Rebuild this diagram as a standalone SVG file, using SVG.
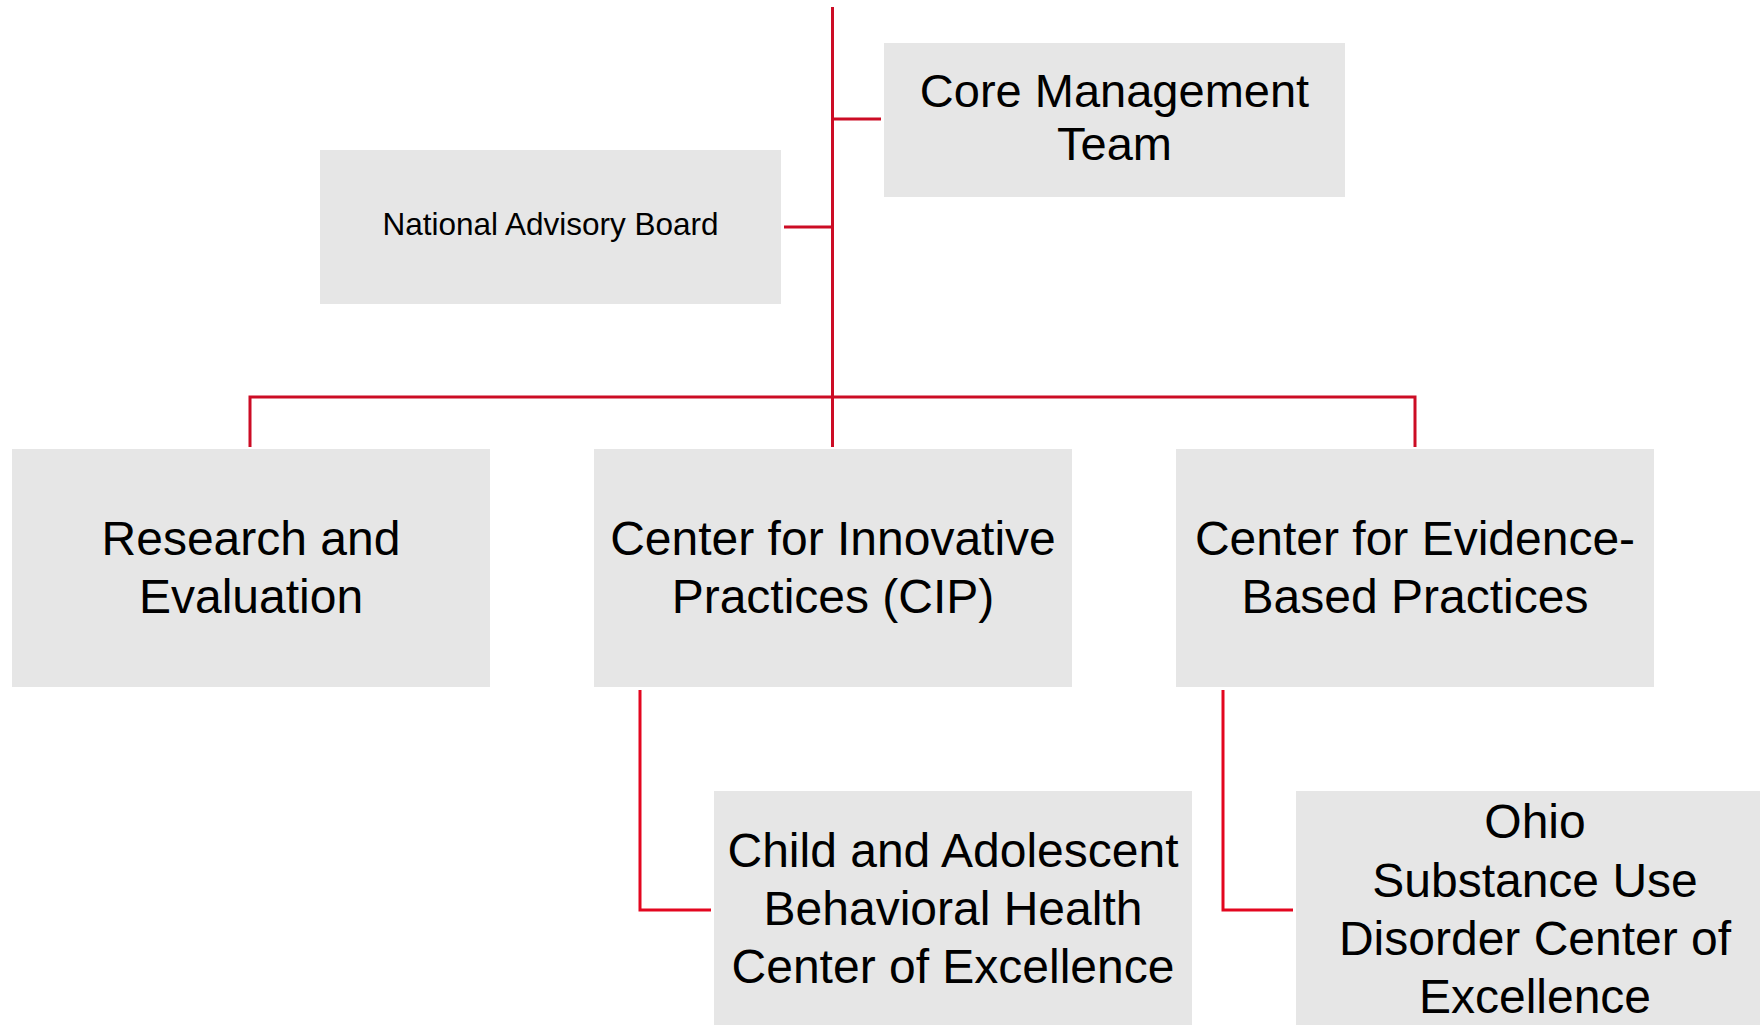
<svg xmlns="http://www.w3.org/2000/svg" width="1760" height="1025" viewBox="0 0 1760 1025">
  <style>
    .box { fill: #e6e6e6; }
    .lbl { font-family: "Liberation Sans", Arial, sans-serif; fill: #000; text-anchor: middle; }
    .big { font-size: 48px; }
    .mid { font-size: 47px; }
    .small { font-size: 31.5px; }
    .wire { fill: none; stroke: #cc0c25; stroke-width: 3; }
    .wire2 { fill: none; stroke: #e3061f; stroke-width: 3; }
  </style>

  <rect width="1760" height="1025" fill="#ffffff"/>

  <!-- connectors -->
  <g id="connectors">
    <path class="wire" d="M832.5,7 V397"/>
    <path class="wire" d="M832.5,119 H881"/>
    <path class="wire" d="M784,227 H832.5"/>
    <path class="wire" d="M250,447 V397 H1415 V447"/>
    <path class="wire" d="M832.5,397 V447"/>
    <path class="wire2" d="M640,690 V910 H711"/>
    <path class="wire2" d="M1223,690 V910 H1293"/>
  </g>

  <g id="core-management-team">
    <rect class="box" x="884" y="43" width="461" height="154"/>
    <text class="lbl mid" x="1114.5" y="107">Core Management</text>
    <text class="lbl mid" x="1114.5" y="160">Team</text>
  </g>

  <g id="national-advisory-board">
    <rect class="box" x="320" y="150" width="461" height="154"/>
    <text class="lbl small" x="550.5" y="235">National Advisory Board</text>
  </g>

  <g id="research-evaluation">
    <rect class="box" x="12" y="449" width="478" height="238"/>
    <text class="lbl big" x="251" y="555">Research and</text>
    <text class="lbl big" x="251" y="613">Evaluation</text>
  </g>

  <g id="center-innovative-practices">
    <rect class="box" x="594" y="449" width="478" height="238"/>
    <text class="lbl big" x="833" y="555">Center for Innovative</text>
    <text class="lbl big" x="833" y="613">Practices (CIP)</text>
  </g>

  <g id="center-evidence-based-practices">
    <rect class="box" x="1176" y="449" width="478" height="238"/>
    <text class="lbl big" x="1415" y="555">Center for Evidence-</text>
    <text class="lbl big" x="1415" y="613">Based Practices</text>
  </g>

  <g id="child-adolescent-coe">
    <rect class="box" x="714" y="791" width="478" height="238"/>
    <text class="lbl big" x="953" y="867">Child and Adolescent</text>
    <text class="lbl big" x="953" y="925">Behavioral Health</text>
    <text class="lbl big" x="953" y="983">Center of Excellence</text>
  </g>

  <g id="ohio-sud-coe">
    <rect class="box" x="1296" y="791" width="478" height="238"/>
    <text class="lbl big" x="1535" y="838">Ohio</text>
    <text class="lbl big" x="1535" y="897">Substance Use</text>
    <text class="lbl big" x="1535" y="955">Disorder Center of</text>
    <text class="lbl big" x="1535" y="1013">Excellence</text>
  </g>
</svg>
